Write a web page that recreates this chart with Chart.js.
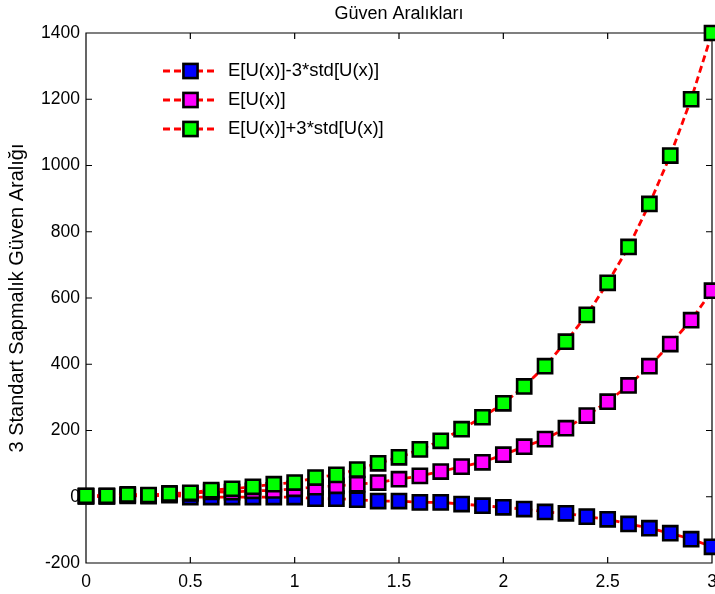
<!DOCTYPE html>
<html>
<head>
<meta charset="utf-8">
<title>Güven Aralıkları</title>
<script src="https://cdn.jsdelivr.net/npm/chart.js@4.4.1/dist/chart.umd.min.js"></script>
<style>
  html, body { margin: 0; padding: 0; background: #fff; }
  #wrap { width: 715px; height: 594px; }
</style>
</head>
<body>
<div id="wrap"><canvas id="chart"></canvas></div>
<script>
// data
const xValues = [0, 0.1, 0.2, 0.3, 0.4, 0.5, 0.6, 0.7, 0.8, 0.9, 1.0, 1.1, 1.2, 1.3, 1.4, 1.5,
  1.6, 1.7, 1.8, 1.9, 2.0, 2.1, 2.2, 2.3, 2.4, 2.5, 2.6, 2.7, 2.8, 2.9, 3.0];
const lowerBand = [1, 1, 3, 2, 5, -1, -1, -1, -1, -1, -1, -6, -6, -9, -13, -13,
  -17, -17, -22, -27, -32, -37, -46, -50, -60, -68, -82, -95, -110, -128, -151];
const meanValues = [2, 2, 5, 4, 8, 10, 15, 14, 18, 19, 24, 29, 33, 38, 43, 53,
  63, 76, 91, 104, 127, 151, 174, 207, 245, 287, 336, 394, 461, 533, 622];
const upperBand = [3, 3, 7, 5, 10, 12, 20, 24, 30, 38, 43, 58, 66, 82, 101, 119,
  143, 169, 204, 240, 282, 333, 394, 468, 549, 646, 754, 884, 1030, 1200, 1400];

const seriesLabels = ['E[U(x)]-3*std[U(x)]', 'E[U(x)]', 'E[U(x)]+3*std[U(x)]'];
const markerColors = ['#0000ff', '#ff00ff', '#00ff00'];
const xTicks = [0, 0.5, 1, 1.5, 2, 2.5, 3];
const yTicks = [-200, 0, 200, 400, 600, 800, 1000, 1200, 1400];

const FONT = '"Liberation Sans", Arial, Helvetica, sans-serif';
Chart.defaults.font.family = FONT;
Chart.defaults.color = '#000';

// box around the axes with short inward ticks on all four sides
const axesBox = {
  id: 'axesBox',
  beforeDatasetsDraw(chart) {
    const {ctx, chartArea: a, scales: {x, y}} = chart;
    const len = 6;
    ctx.save();
    ctx.strokeStyle = '#000';
    ctx.lineWidth = 1.2;
    ctx.beginPath();
    ctx.rect(a.left, a.top, a.right - a.left, a.bottom - a.top);
    xTicks.forEach(v => {
      const px = x.getPixelForValue(v);
      ctx.moveTo(px, a.bottom); ctx.lineTo(px, a.bottom - len);
      ctx.moveTo(px, a.top); ctx.lineTo(px, a.top + len);
    });
    yTicks.forEach(v => {
      const py = y.getPixelForValue(v);
      ctx.moveTo(a.left, py); ctx.lineTo(a.left + len, py);
      ctx.moveTo(a.right, py); ctx.lineTo(a.right - len, py);
    });
    ctx.stroke();
    ctx.restore();
  }
};

// legend in the upper left corner of the plot, line sample with marker
const insideLegend = {
  id: 'insideLegend',
  afterDatasetsDraw(chart) {
    const {ctx, chartArea: a} = chart;
    const ds = chart.data.datasets;
    ctx.save();
    ctx.font = '18.5px ' + FONT;
    ctx.textBaseline = 'middle';
    ctx.textAlign = 'left';
    ds.forEach((d, i) => {
      const y = a.top + 38 + i * 29;
      const x0 = a.left + 77, x1 = a.left + 132, xm = (x0 + x1) / 2;
      ctx.strokeStyle = d.borderColor;
      ctx.lineWidth = d.borderWidth;
      ctx.setLineDash(d.borderDash);
      ctx.beginPath();
      ctx.moveTo(x0, y);
      ctx.lineTo(x1, y);
      ctx.stroke();
      ctx.setLineDash([]);
      const s = Math.SQRT1_2 * d.pointRadius;
      ctx.fillStyle = d.pointBackgroundColor;
      ctx.fillRect(xm - s, y - s, 2 * s, 2 * s);
      ctx.lineWidth = d.pointBorderWidth;
      ctx.strokeStyle = d.pointBorderColor;
      ctx.strokeRect(xm - s, y - s, 2 * s, 2 * s);
      ctx.fillStyle = '#000';
      ctx.fillText(d.label, a.left + 142, y);
    });
    ctx.restore();
  }
};

const datasets = [lowerBand, meanValues, upperBand].map((vals, i) => ({
  label: seriesLabels[i],
  data: xValues.map((x, k) => ({x: x, y: vals[k]})),
  borderColor: '#ff0000',
  borderWidth: 2.8,
  borderDash: [7, 4],
  pointStyle: 'rect',
  pointRadius: 10,
  pointHoverRadius: 10,
  pointBorderWidth: 2.6,
  pointBorderColor: '#000',
  pointBackgroundColor: markerColors[i],
  order: 3 - i,   // upper band ends up on top
  clip: false,
  fill: false,
  tension: 0
}));

const ctx = document.getElementById('chart');
new Chart(ctx, {
  type: 'line',
  data: {datasets: datasets},
  options: {
    responsive: true,
    maintainAspectRatio: false,
    animation: false,
    layout: {autoPadding: false, padding: {left: 0, right: 3, top: 0, bottom: 0}},
    plugins: {
      legend: {display: false},
      tooltip: {enabled: false},
      title: {
        display: true,
        text: 'Güven Aralıkları',
        fullSize: false,
        color: '#000',
        font: {size: 18, weight: 'normal'},
        padding: {top: 3.5, bottom: 7.9}
      }
    },
    scales: {
      x: {
        type: 'linear',
        min: 0,
        max: 3,
        afterBuildTicks: s => { s.ticks = xTicks.map(v => ({value: v})); },
        afterFit: s => { s.height = 31; s.paddingLeft = 0; s.paddingRight = 0; },
        grid: {display: false, drawTicks: false},
        border: {display: false},
        ticks: {
          font: {size: 17.5},
          color: '#000',
          padding: 9,
          maxRotation: 0,
          autoSkip: false,
          callback: v => String(v)
        }
      },
      y: {
        min: -200,
        max: 1400,
        afterBuildTicks: s => { s.ticks = yTicks.map(v => ({value: v})); },
        afterFit: s => { s.width = 86; s.paddingTop = 0; s.paddingBottom = 0; },
        grid: {display: false, drawTicks: false},
        border: {display: false},
        ticks: {
          font: {size: 17.5},
          color: '#000',
          padding: 6,
          autoSkip: false,
          callback: v => String(v)
        },
        title: {
          display: true,
          text: '3 Standart Sapmalık Güven Aralığı',
          color: '#000',
          font: {size: 20, weight: 'normal'},
          padding: {top: 5, bottom: 0}
        }
      }
    }
  },
  plugins: [axesBox, insideLegend]
});
</script>
</body>
</html>
